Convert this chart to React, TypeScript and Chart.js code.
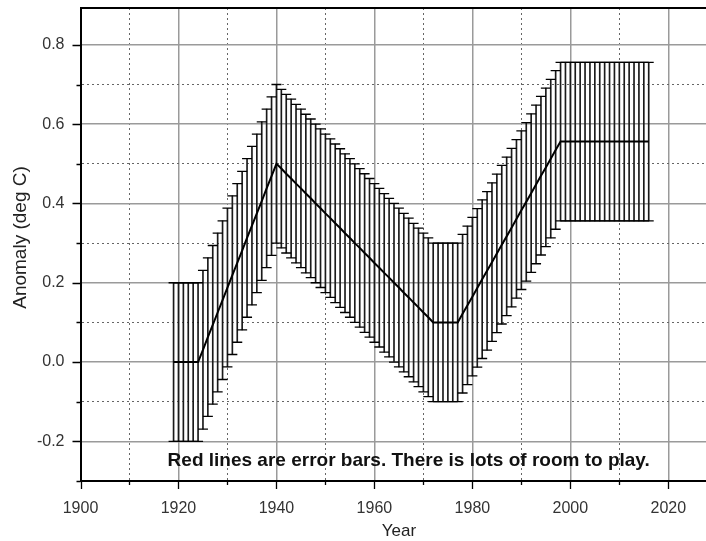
import React, { useEffect, useRef } from 'react';
import { Chart, registerables } from 'chart.js';

Chart.register(...registerables);

const FONT = "'Liberation Sans', Arial, Helvetica, sans-serif";

// Years with an observation
const years = [
  1919, 1920, 1921, 1922, 1923, 1924, 1925, 1926, 1927, 1928,
  1929, 1930, 1931, 1932, 1933, 1934, 1935, 1936, 1937, 1938,
  1939, 1940, 1941, 1942, 1943, 1944, 1945, 1946, 1947, 1948,
  1949, 1950, 1951, 1952, 1953, 1954, 1955, 1956, 1957, 1958,
  1959, 1960, 1961, 1962, 1963, 1964, 1965, 1966, 1967, 1968,
  1969, 1970, 1971, 1972, 1973, 1974, 1975, 1976, 1977, 1978,
  1979, 1980, 1981, 1982, 1983, 1984, 1985, 1986, 1987, 1988,
  1989, 1990, 1991, 1992, 1993, 1994, 1995, 1996, 1997, 1998,
  1999, 2000, 2001, 2002, 2003, 2004, 2005, 2006, 2007, 2008,
  2009, 2010, 2011, 2012, 2013, 2014, 2015, 2016,
];

// Anomaly (deg C)
const anomaly = [
  0.0, 0.0, 0.0, 0.0, 0.0, 0.0, 0.031, 0.063, 0.094, 0.125,
  0.156, 0.188, 0.219, 0.25, 0.281, 0.313, 0.344, 0.375, 0.406, 0.438,
  0.469, 0.5, 0.488, 0.475, 0.463, 0.45, 0.438, 0.425, 0.413, 0.4,
  0.388, 0.375, 0.363, 0.35, 0.338, 0.325, 0.313, 0.3, 0.288, 0.275,
  0.263, 0.25, 0.238, 0.225, 0.213, 0.2, 0.188, 0.175, 0.163, 0.15,
  0.138, 0.125, 0.113, 0.1, 0.1, 0.1, 0.1, 0.1, 0.1, 0.122,
  0.143, 0.165, 0.187, 0.209, 0.23, 0.252, 0.274, 0.296, 0.317, 0.339,
  0.361, 0.383, 0.404, 0.426, 0.448, 0.47, 0.491, 0.513, 0.535, 0.556,
  0.556, 0.556, 0.556, 0.556, 0.556, 0.556, 0.556, 0.556, 0.556, 0.556,
  0.556, 0.556, 0.556, 0.556, 0.556, 0.556, 0.556, 0.556,
];

// Half-width of each error bar (deg C)
const errorHalf = 0.2;

// Tick labels
const xTickLabels = [1900, 1920, 1940, 1960, 1980, 2000, 2020];
const yTickLabels = ['-0.2', '0.0', '0.2', '0.4', '0.6', '0.8'];

const xTitle = 'Year';
const yTitle = 'Anomaly (deg C)';
const noteText = 'Red lines are error bars. There is lots of room to play.';
const noteYear = 1967;
const noteValue = -0.248;

const isMultiple = (v: number, step: number) => Math.abs(v / step - Math.round(v / step)) < 1e-6;

const decorPlugin = {
  id: 'decor',
  afterDatasetsDraw(chart: any) {
    const { ctx, scales } = chart;
    const xs = scales.x;
    const ys = scales.y;
    ctx.save();
    ctx.fillStyle = '#111';
    ctx.font = `bold 19px ${FONT}`;
    ctx.textAlign = 'center';
    ctx.textBaseline = 'middle';
    ctx.fillText(noteText, xs.getPixelForValue(noteYear), ys.getPixelForValue(noteValue));
    ctx.restore();
  },
  afterDraw(chart: any) {
    const { ctx, scales, chartArea } = chart;
    const xs = scales.x;
    const ys = scales.y;
    ctx.save();
    ctx.strokeStyle = '#000';
    ctx.lineWidth = 1.3;
    ctx.beginPath();
    xs.ticks.forEach((t: any) => {
      const v = t.value;
      if (!isMultiple(v, 10) || v > 2025) return;
      const px = Math.round(xs.getPixelForValue(v)) + 0.5;
      const len = isMultiple(v, 20) ? 8 : 4;
      ctx.moveTo(px, chartArea.bottom);
      ctx.lineTo(px, chartArea.bottom + len);
    });
    ys.ticks.forEach((t: any) => {
      const v = t.value;
      if (!isMultiple(v, 0.1) || v > 0.85) return;
      const py = Math.round(ys.getPixelForValue(v)) + 0.5;
      const len = isMultiple(v, 0.2) ? 8 : 4;
      ctx.moveTo(chartArea.left, py);
      ctx.lineTo(chartArea.left - len, py);
    });
    ctx.stroke();

    ctx.fillStyle = '#222';
    ctx.font = `19px ${FONT}`;
    ctx.textAlign = 'center';
    ctx.textBaseline = 'middle';
    ctx.translate(21, (chartArea.top + chartArea.bottom) / 2 - 7);
    ctx.rotate(-Math.PI / 2);
    ctx.fillText(yTitle, 0, 0);
    ctx.restore();
  },
};

export default function App() {
  const canvasRef = useRef<HTMLCanvasElement | null>(null);

  useEffect(() => {
    if (!canvasRef.current) return;
    const xMajor = (ctx: any) => ctx.tick && isMultiple(ctx.tick.value, 20);
    const yMajor = (ctx: any) => ctx.tick && isMultiple(ctx.tick.value, 0.2);

    const chart = new Chart(canvasRef.current, {
      type: 'bar',
      data: {
        datasets: [
          {
            type: 'line',
            label: 'Anomaly',
            data: years.map((x, i) => ({ x, y: anomaly[i] })),
            borderColor: '#000',
            borderWidth: 2,
            pointRadius: 0,
            tension: 0,
            fill: false,
            order: 0,
          } as any,
          {
            type: 'scatter',
            label: 'Upper cap',
            data: years.map((x, i) => ({ x, y: anomaly[i] + errorHalf })),
            pointStyle: 'line',
            pointRadius: 5,
            pointBorderWidth: 1.3,
            pointBorderColor: '#000',
            pointBackgroundColor: '#000',
            showLine: false,
            order: 1,
          } as any,
          {
            type: 'scatter',
            label: 'Lower cap',
            data: years.map((x, i) => ({ x, y: anomaly[i] - errorHalf })),
            pointStyle: 'line',
            pointRadius: 5,
            pointBorderWidth: 1.3,
            pointBorderColor: '#000',
            pointBackgroundColor: '#000',
            showLine: false,
            order: 1,
          } as any,
          {
            type: 'bar',
            label: 'Error',
            data: years.map((x, i) => ({ x, y: [anomaly[i] - errorHalf, anomaly[i] + errorHalf] })),
            backgroundColor: '#1a1a1a',
            borderWidth: 0,
            barThickness: 1,
            grouped: false,
            order: 2,
          } as any,
        ],
      },
      options: {
        animation: false,
        responsive: false,
        devicePixelRatio: 1,
        layout: { padding: { left: 0, right: 12.7, top: 0, bottom: 0 } },
        plugins: {
          legend: { display: false },
          tooltip: { enabled: false },
        },
        scales: {
          x: {
            type: 'linear',
            position: 'bottom',
            min: 1900,
            max: 2030,
            offset: false,
            ticks: {
              stepSize: 10,
              autoSkip: false,
              maxRotation: 0,
              padding: 18,
              color: '#333',
              font: { family: FONT, size: 16 },
              callback: (v: any) => (xTickLabels.includes(Math.round(Number(v))) && isMultiple(Number(v), 20) ? String(Math.round(Number(v))) : ''),
            },
            grid: {
              offset: false,
              drawTicks: false,
              color: (ctx: any) => (xMajor(ctx) ? '#9a9a9a' : '#666'),
              lineWidth: (ctx: any) => (xMajor(ctx) ? 1.5 : 1),
            },
            border: {
              display: true,
              color: '#000',
              width: 2,
              z: 1,
              dash: (ctx: any) => (ctx.tick && !isMultiple(ctx.tick.value, 20) ? [2, 3] : []),
            },
            title: {
              display: true,
              text: xTitle,
              color: '#222',
              font: { family: FONT, size: 17, lineHeight: 1.1 },
              padding: { top: 0, bottom: 0 },
            },
            afterFit: (s: any) => {
              s.height = 60;
              s.paddingLeft = 0;
              s.paddingRight = 0;
            },
          },
          xTop: {
            type: 'linear',
            axis: 'x',
            position: 'top',
            min: 1900,
            max: 2030,
            offset: false,
            ticks: { display: false },
            grid: { display: false, drawTicks: false },
            border: { display: true, color: '#000', width: 2, z: 1 },
            afterFit: (s: any) => {
              s.height = 8;
              s.paddingLeft = 0;
              s.paddingRight = 0;
            },
          },
          y: {
            type: 'linear',
            position: 'left',
            min: -0.3,
            max: 0.893,
            ticks: {
              stepSize: 0.1,
              autoSkip: false,
              padding: 16,
              color: '#333',
              font: { family: FONT, size: 16 },
              callback: (v: any) => {
                const s = (Math.round(Number(v) * 10) / 10).toFixed(1);
                return yTickLabels.includes(s) && isMultiple(Number(v), 0.1) ? s : '';
              },
            },
            grid: {
              drawTicks: false,
              color: (ctx: any) => (yMajor(ctx) ? '#9a9a9a' : '#666'),
              lineWidth: (ctx: any) => (yMajor(ctx) ? 1.5 : 1),
            },
            border: {
              display: true,
              color: '#000',
              width: 2,
              z: 1,
              dash: (ctx: any) => (ctx.tick && !isMultiple(ctx.tick.value, 0.2) ? [2, 3] : []),
            },
            afterFit: (s: any) => {
              s.width = 80.5;
              s.paddingTop = 0;
              s.paddingBottom = 0;
            },
          },
        },
      } as any,
      plugins: [decorPlugin],
    });
    return () => chart.destroy();
  }, []);

  return (
    <div style={{ position: 'fixed', left: 0, top: 0, width: 706, height: 541, overflow: 'hidden', background: '#fff' }}>
      <canvas ref={canvasRef} width={730} height={541} style={{ display: 'block' }} />
    </div>
  );
}
